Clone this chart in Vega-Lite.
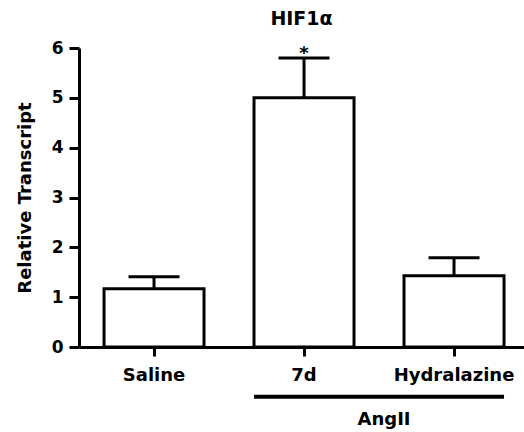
{
  "$schema": "https://vega.github.io/schema/vega-lite/v6.json",
  "autosize": {"type": "none"},
  "padding": {"left": 79, "top": 48, "right": 0, "bottom": 85},
  "width": 445,
  "height": 299,
  "title": {"text": "HIF1α", "font": "DejaVu Sans", "fontSize": 19, "fontWeight": "bold", "color": "black", "anchor": "middle", "offset": 10},
  "config": {"view": {"stroke": null}, "font": "DejaVu Sans"},
  "encoding": {
    "x": {
      "field": "group", "type": "nominal",
      "scale": {"domain": ["Saline", "7d", "Hydralazine"], "paddingInner": 0.3333, "paddingOuter": 0.15, "align": 0.556, "round": false},
      "axis": {"title": null, "labelAngle": 0, "labelFont": "DejaVu Sans", "labelFontSize": 18, "labelFontWeight": "bold", "labelColor": "black", "labelPadding": 10, "tickSize": 9, "tickWidth": 3, "tickColor": "black", "domainWidth": 3, "domainColor": "black", "grid": false}
    }
  },
  "layer": [
    {
      "data": {"values": [
        {"group": "Saline", "value": 1.17, "upper": 1.41, "sig": ""},
        {"group": "7d", "value": 5.0, "upper": 5.8, "sig": "*"},
        {"group": "Hydralazine", "value": 1.43, "upper": 1.79, "sig": ""}
      ]},
      "layer": [
        {
          "mark": {"type": "bar", "fill": "white", "stroke": "black", "strokeWidth": 3},
          "encoding": {
            "y": {
              "field": "value", "type": "quantitative",
              "scale": {"domain": [0, 6], "nice": false},
              "axis": {"title": "Relative Transcript", "values": [0, 1, 2, 3, 4, 5, 6], "titleFont": "DejaVu Sans", "titleFontSize": 18, "titleFontWeight": "bold", "titleColor": "black", "titlePadding": 17, "labelFont": "DejaVu Sans", "labelFontSize": 17, "labelFontWeight": "bold", "labelColor": "black", "labelPadding": 6, "tickSize": 10, "tickWidth": 3, "tickColor": "black", "domainWidth": 3, "domainColor": "black", "grid": false}
            }
          }
        },
        {
          "mark": {"type": "rule", "stroke": "black", "strokeWidth": 3},
          "encoding": {"y": {"field": "value", "type": "quantitative"}, "y2": {"field": "upper"}}
        },
        {
          "mark": {"type": "tick", "color": "black", "size": 51, "thickness": 3, "opacity": 1},
          "encoding": {"y": {"field": "upper", "type": "quantitative"}}
        },
        {
          "mark": {"type": "text", "font": "DejaVu Sans", "fontSize": 18, "fontWeight": "bold", "color": "black", "baseline": "alphabetic", "dy": 1},
          "encoding": {"y": {"field": "upper", "type": "quantitative"}, "text": {"field": "sig"}}
        }
      ]
    },
    {
      "data": {"values": [{"start": "7d", "end": "Hydralazine", "ypos": -1, "label": "AngII", "ylab": -1.46}]},
      "layer": [
        {
          "mark": {"type": "rule", "stroke": "black", "strokeWidth": 4, "clip": false},
          "encoding": {
            "x": {"field": "start", "type": "nominal", "bandPosition": 0},
            "x2": {"field": "end", "bandPosition": 1},
            "y": {"field": "ypos", "type": "quantitative"}
          }
        },
        {
          "mark": {"type": "text", "font": "DejaVu Sans", "fontSize": 18, "fontWeight": "bold", "color": "black", "baseline": "middle", "dx": 30, "clip": false},
          "encoding": {
            "x": {"field": "start", "type": "nominal", "bandPosition": 1},
            "y": {"field": "ylab", "type": "quantitative"},
            "text": {"field": "label"}
          }
        }
      ]
    }
  ]
}
